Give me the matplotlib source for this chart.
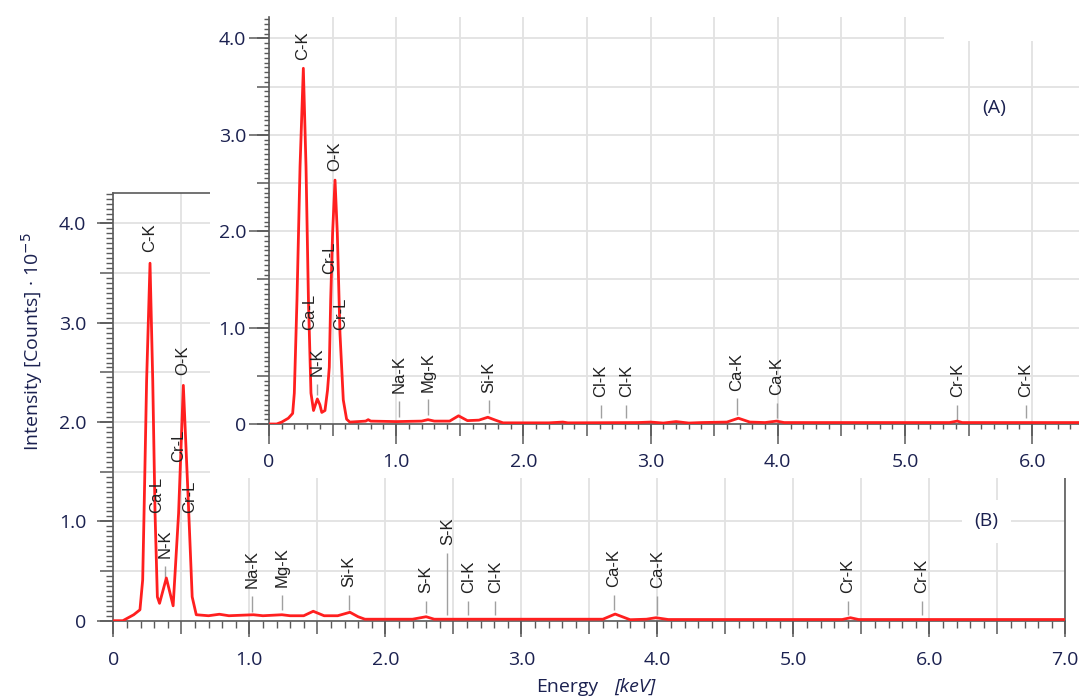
import numpy as np
import matplotlib
matplotlib.use('Agg')
import matplotlib.pyplot as plt
from matplotlib.ticker import MultipleLocator, FuncFormatter
from matplotlib.patches import Rectangle

# spectrum (A) - energy [keV], intensity [counts * 1e-5]
energy_a = [0.00, 0.06, 0.10, 0.152, 0.186, 0.199, 0.22, 0.244, 0.27, 0.291, 0.31, 0.33, 0.35,
            0.38, 0.40, 0.415, 0.44, 0.46, 0.474, 0.485, 0.50, 0.519, 0.537, 0.558, 0.584,
            0.61, 0.635, 0.70, 0.76, 0.78, 0.80, 1.00, 1.20, 1.25, 1.30, 1.42, 1.49, 1.56,
            1.65, 1.72, 1.78, 1.84, 2.20, 2.31, 2.35, 2.90, 3.00, 3.10, 3.20, 3.30, 3.40,
            3.60, 3.69, 3.78, 3.90, 3.99, 4.05, 5.35, 5.41, 5.45, 6.40]
intensity_a = [0.00, 0.00, 0.02, 0.06, 0.11, 0.32, 1.29, 2.67, 3.69, 2.67, 1.29, 0.32, 0.14,
               0.26, 0.20, 0.12, 0.14, 0.35, 0.59, 1.29, 1.98, 2.53, 1.98, 0.94, 0.25,
               0.05, 0.02, 0.025, 0.03, 0.045, 0.03, 0.025, 0.03, 0.045, 0.03, 0.03, 0.085, 0.035,
               0.04, 0.07, 0.04, 0.012, 0.012, 0.02, 0.012, 0.015, 0.02, 0.01, 0.025, 0.01, 0.015,
               0.02, 0.06, 0.02, 0.015, 0.03, 0.015, 0.015, 0.03, 0.015, 0.015]

# spectrum (B)
energy_b = [0.00, 0.07, 0.15, 0.196, 0.216, 0.226, 0.245, 0.27, 0.29, 0.307, 0.324, 0.34,
            0.39, 0.44, 0.48, 0.515, 0.55, 0.58, 0.61, 0.70, 0.78, 0.85, 1.03, 1.10, 1.24,
            1.30, 1.40, 1.47, 1.55, 1.65, 1.74, 1.80, 1.85, 2.20, 2.30, 2.36, 3.60, 3.69,
            3.80, 3.92, 3.99, 4.08, 5.36, 5.42, 5.48, 7.00]
intensity_b = [0.00, 0.00, 0.06, 0.11, 0.41, 1.08, 2.42, 3.60, 2.42, 1.08, 0.24, 0.175,
               0.43, 0.15, 1.08, 2.37, 1.25, 0.24, 0.06, 0.05, 0.065, 0.05, 0.06, 0.05, 0.06,
               0.05, 0.05, 0.095, 0.05, 0.05, 0.085, 0.04, 0.015, 0.015, 0.04, 0.015, 0.015, 0.067,
               0.01, 0.015, 0.03, 0.012, 0.012, 0.03, 0.012, 0.012]

# peak labels: name, position [keV], label base, end of marker line (nan = no line)
peaks_a = ['C-K', 'Ca-L', 'N-K', 'Cr-L', 'O-K', 'Cr-L', 'Na-K', 'Mg-K', 'Si-K',
           'Cl-K', 'Cl-K', 'Ca-K', 'Ca-K', 'Cr-K', 'Cr-K']
peak_x_a = [0.265, 0.32, 0.375, 0.48, 0.52, 0.56, 1.024, 1.25, 1.727,
            2.61, 2.81, 3.68, 3.99, 5.41, 5.95]
peak_y_a = [3.78, 0.975, 0.50, 1.56, 2.62, 0.975, 0.32, 0.335, 0.325,
            0.28, 0.28, 0.345, 0.30, 0.28, 0.28]
peak_lo_a = [np.nan, np.nan, 0.30, np.nan, np.nan, np.nan, 0.07, 0.09, 0.11,
             0.06, 0.06, 0.09, 0.06, 0.035, 0.06]

peaks_b = ['C-K', 'Ca-L', 'N-K', 'Cr-L', 'O-K', 'Cr-L', 'Na-K', 'Mg-K', 'Si-K', 'S-K', 'S-K',
           'Cl-K', 'Cl-K', 'Ca-K', 'Ca-K', 'Cr-K', 'Cr-K']
peak_x_b = [0.27, 0.32, 0.38, 0.478, 0.51, 0.564, 1.02, 1.24, 1.73, 2.30, 2.456,
            2.61, 2.81, 3.68, 4.00, 5.40, 5.944]
peak_y_b = [3.71, 1.08, 0.63, 1.60, 2.47, 1.08, 0.33, 0.34, 0.34, 0.275, 0.76,
            0.275, 0.275, 0.34, 0.33, 0.275, 0.275]
peak_lo_b = [np.nan, np.nan, 0.43, np.nan, np.nan, np.nan, 0.09, 0.11, 0.11, 0.08, 0.06,
             0.06, 0.06, 0.11, 0.06, 0.06, 0.06]

W, H = 1079, 698
NAVY = '#1b2150'
TICK = '#5a5a5a'
GRID = '#e2e2e2'
RED = '#ff1f1f'
PX = 72 / 100  # points per pixel


def fx(px):
    return px / W


def fy(py):
    return 1 - py / H


def label_fmt(v, pos):
    if abs(v) < 1e-9:
        return '0'
    if abs(v - round(v)) < 1e-6:
        return '{:.1f}'.format(v)
    return ''


def style_axes(ax, xmax, ymax, long_len, mid_len, short_len, xpad, ypad):
    ax.set_xlim(0, xmax)
    ax.set_ylim(0, ymax)
    ax.set_axisbelow(True)
    ax.xaxis.set_major_locator(MultipleLocator(0.5))
    ax.yaxis.set_major_locator(MultipleLocator(0.5))
    ax.xaxis.set_minor_locator(MultipleLocator(0.1))
    ax.yaxis.set_minor_locator(MultipleLocator(0.05))
    ax.xaxis.set_major_formatter(FuncFormatter(label_fmt))
    ax.yaxis.set_major_formatter(FuncFormatter(label_fmt))
    ax.grid(True, which='major', color=GRID, lw=1.3)
    ax.tick_params(which='major', direction='out', length=mid_len * PX, width=1.1,
                   color=TICK, labelcolor=NAVY, labelsize=14)
    ax.tick_params(axis='x', which='major', pad=xpad * PX)
    ax.tick_params(axis='y', which='major', pad=ypad * PX)
    ax.tick_params(which='minor', direction='out', length=short_len * PX, width=1.0, color=TICK)
    for s in ax.spines.values():
        s.set_color(TICK)
        s.set_linewidth(1.2)
    # longer ticks on whole numbers
    sx = ax.secondary_xaxis('bottom')
    sx.set_xticks(np.arange(0, xmax + 0.01, 1.0))
    sx.tick_params(length=long_len * PX, width=1.1, color=TICK, labelbottom=False)
    sx.spines['bottom'].set_visible(False)
    sy = ax.secondary_yaxis('left')
    sy.set_yticks(np.arange(0, ymax + 0.01, 1.0))
    sy.tick_params(length=long_len * PX, width=1.1, color=TICK, labelleft=False)
    sy.spines['left'].set_visible(False)


def add_peaks(ax, names, xs, ys, los, gap):
    for name, x, y in zip(names, xs, ys):
        ax.text(x, y, name, rotation=90, ha='center', va='bottom', fontsize=12,
                family='Liberation Sans', color='#222222', zorder=4)
    xs = np.array(xs)
    ys = np.array(ys)
    los = np.array(los)
    ok = ~np.isnan(los)
    ax.vlines(xs[ok], los[ok], ys[ok] - gap, color='#a0a0a0', lw=1.0, zorder=2)


def main():
    plt.rcParams['font.family'] = ['Open Sans', 'DejaVu Sans']
    fig = plt.figure(figsize=(W / 100, H / 100), dpi=100)

    # panel (B), the background one
    ax_b = fig.add_axes([fx(113.3), fy(620.7), (1065.3 - 113.3) / W, (620.7 - 192.7) / H])
    ax_b.set_zorder(0)
    style_axes(ax_b, 7.0, 4.31, 16, 13, 7, 17, 14)
    ax_b.plot(energy_b, intensity_b, color=RED, lw=2.0, zorder=3)
    add_peaks(ax_b, peaks_b, peak_x_b, peak_y_b, peak_lo_b, 0.08)
    ax_b.text(6.42, 1.0, '(B)', ha='center', va='center', fontsize=14, color=NAVY, zorder=5,
              bbox=dict(facecolor='white', edgecolor='none', pad=9))

    # white cover behind the inset
    cover = Rectangle((fx(210), fy(478)), 1 - fx(210), 478 / H, transform=fig.transFigure,
                      facecolor='white', edgecolor='none', zorder=1)
    fig.patches.append(cover)

    # panel (A), the inset
    ax_a = fig.add_axes([fx(269), fy(424), (W - 269) / W, (424 - 17) / H])
    ax_a.set_zorder(2)
    ax_a.patch.set_alpha(0)
    style_axes(ax_a, (W - 269) / 127.2, 407 / 96.4, 20, 12, 5, 17, 11)
    ax_a.spines['top'].set_visible(False)
    ax_a.spines['right'].set_visible(False)
    ax_a.add_patch(Rectangle((5.31, 3.975), 2.0, 1.0, facecolor='white', edgecolor='none', zorder=1))
    ax_a.plot(energy_a, intensity_a, color=RED, lw=2.0, zorder=3)
    add_peaks(ax_a, peaks_a, peak_x_a, peak_y_a, peak_lo_a, 0.08)
    ax_a.text(5.70, 3.28, '(A)', ha='center', va='center', fontsize=14, color=NAVY)

    fig.text(fx(32), fy(342), 'Intensity [Counts] \u00b7 10$^{-5}$', rotation=90,
             ha='center', va='center', fontsize=14, color=NAVY)
    fig.text(fx(598), fy(678), 'Energy', ha='right', va='top', fontsize=14, color=NAVY)
    fig.text(fx(614), fy(678), '[keV]', ha='left', va='top', fontsize=14, color=NAVY,
             style='italic')

    fig.savefig('out.png', dpi=100)


if __name__ == '__main__':
    main()
